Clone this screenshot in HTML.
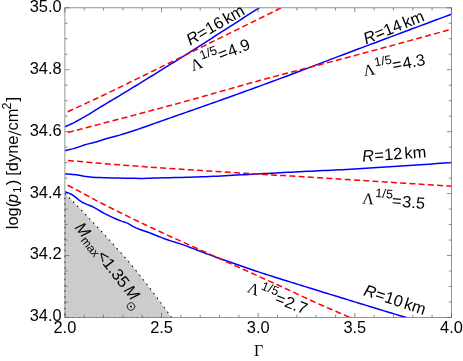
<!DOCTYPE html>
<html><head><meta charset="utf-8"><title>plot</title>
<style>
html,body{margin:0;padding:0;background:#fff;}
body{width:463px;height:361px;overflow:hidden;position:relative;font-family:"Liberation Sans",sans-serif;}
</style></head><body>
<svg width="463" height="361" viewBox="0 0 463 361" style="position:absolute;left:0;top:0;will-change:transform">
<rect x="0" y="0" width="463" height="361" fill="#fff"/>
<defs><clipPath id="cp"><rect x="64.9" y="7.8" width="386.54999999999995" height="309.65"/></clipPath></defs>
<clipPath id="tri"><path d="M64.90,193.50 L67.63,196.22 L70.37,198.97 L73.10,201.73 L75.83,204.51 L78.57,207.31 L81.30,210.13 L84.03,212.96 L86.77,215.81 L89.50,218.67 L92.23,221.56 L94.97,224.47 L97.70,227.40 L100.43,230.35 L103.17,233.31 L105.90,236.30 L108.63,239.30 L111.37,242.30 L114.10,245.31 L116.83,248.32 L119.57,251.35 L122.30,254.40 L125.03,257.50 L127.77,260.65 L130.50,263.86 L133.23,267.16 L135.97,270.55 L138.70,273.99 L141.43,277.44 L144.17,280.92 L146.90,284.43 L149.63,287.96 L152.37,291.53 L155.10,295.13 L157.83,298.77 L160.57,302.44 L163.30,306.14 L166.03,309.88 L168.77,313.65 L171.50,317.45 L64.9,317.45 Z"/></clipPath>
<path d="M64.90,193.50 L67.63,196.22 L70.37,198.97 L73.10,201.73 L75.83,204.51 L78.57,207.31 L81.30,210.13 L84.03,212.96 L86.77,215.81 L89.50,218.67 L92.23,221.56 L94.97,224.47 L97.70,227.40 L100.43,230.35 L103.17,233.31 L105.90,236.30 L108.63,239.30 L111.37,242.30 L114.10,245.31 L116.83,248.32 L119.57,251.35 L122.30,254.40 L125.03,257.50 L127.77,260.65 L130.50,263.86 L133.23,267.16 L135.97,270.55 L138.70,273.99 L141.43,277.44 L144.17,280.92 L146.90,284.43 L149.63,287.96 L152.37,291.53 L155.10,295.13 L157.83,298.77 L160.57,302.44 L163.30,306.14 L166.03,309.88 L168.77,313.65 L171.50,317.45 L64.9,317.45 Z" fill="#cccccc"/>
<path d="M85.4,190 V318 M104.7,190 V318 M124.0,190 V318 M143.3,190 V318 M64,254.5 H180 M64,285.5 H180 M66.0,300 l38.6,-29.9 M66.0,331 l38.6,-29.9 M66.0,269 l38.6,-29.9 M85.3,300 l38.6,-29.9 M85.3,331 l38.6,-29.9 M85.3,269 l38.6,-29.9 M104.6,300 l38.6,-29.9 M104.6,331 l38.6,-29.9 M104.6,269 l38.6,-29.9 M123.9,300 l38.6,-29.9 M123.9,331 l38.6,-29.9 M123.9,269 l38.6,-29.9 M143.2,300 l38.6,-29.9 M143.2,331 l38.6,-29.9 M143.2,269 l38.6,-29.9 M162.5,300 l38.6,-29.9 M162.5,331 l38.6,-29.9 M162.5,269 l38.6,-29.9 M181.8,300 l38.6,-29.9 M181.8,331 l38.6,-29.9 M181.8,269 l38.6,-29.9" stroke="#d1d1d1" stroke-width="0.55" fill="none" clip-path="url(#tri)"/>
<path d="M64.90,193.50 L67.63,196.22 L70.37,198.97 L73.10,201.73 L75.83,204.51 L78.57,207.31 L81.30,210.13 L84.03,212.96 L86.77,215.81 L89.50,218.67 L92.23,221.56 L94.97,224.47 L97.70,227.40 L100.43,230.35 L103.17,233.31 L105.90,236.30 L108.63,239.30 L111.37,242.30 L114.10,245.31 L116.83,248.32 L119.57,251.35 L122.30,254.40 L125.03,257.50 L127.77,260.65 L130.50,263.86 L133.23,267.16 L135.97,270.55 L138.70,273.99 L141.43,277.44 L144.17,280.92 L146.90,284.43 L149.63,287.96 L152.37,291.53 L155.10,295.13 L157.83,298.77 L160.57,302.44 L163.30,306.14 L166.03,309.88 L168.77,313.65 L171.50,317.45 L64.9,317.45 Z" fill="none" stroke="#000" stroke-width="1.05" stroke-dasharray="1.5 4.3"/>
<g clip-path="url(#cp)" fill="none" stroke-linecap="butt" stroke-linejoin="round">
<path d="M64.70,126.90 L66.68,126.06 L68.65,125.18 L70.63,124.26 L72.60,123.30 L74.58,122.30 L76.55,121.26 L78.53,120.18 L80.51,119.09 L82.48,117.97 L84.46,116.84 L86.43,115.70 L88.41,114.54 L90.38,113.36 L92.36,112.15 L94.34,110.93 L96.31,109.70 L98.29,108.46 L100.26,107.23 L102.24,106.01 L104.22,104.81 L106.19,103.62 L108.17,102.44 L110.14,101.26 L112.12,100.09 L114.09,98.92 L116.07,97.74 L118.05,96.56 L120.02,95.37 L122.00,94.17 L123.97,92.97 L125.95,91.77 L127.92,90.57 L129.90,89.36 L131.88,88.16 L133.85,86.95 L135.83,85.74 L137.80,84.53 L139.78,83.32 L141.75,82.10 L143.73,80.89 L145.71,79.67 L147.68,78.45 L149.66,77.23 L151.63,76.01 L153.61,74.79 L155.58,73.56 L157.56,72.34 L159.54,71.11 L161.51,69.89 L163.49,68.66 L165.46,67.43 L167.44,66.20 L169.42,64.96 L171.39,63.73 L173.37,62.50 L175.34,61.26 L177.32,60.02 L179.29,58.79 L181.27,57.54 L183.25,56.30 L185.22,55.06 L187.20,53.81 L189.17,52.56 L191.15,51.31 L193.12,50.06 L195.10,48.81 L197.08,47.56 L199.05,46.31 L201.03,45.05 L203.00,43.79 L204.98,42.54 L206.95,41.28 L208.93,40.02 L210.91,38.76 L212.88,37.50 L214.86,36.24 L216.83,34.98 L218.81,33.71 L220.78,32.45 L222.76,31.19 L224.74,29.92 L226.71,28.66 L228.69,27.39 L230.66,26.12 L232.64,24.86 L234.62,23.59 L236.59,22.32 L238.57,21.05 L240.54,19.77 L242.52,18.50 L244.49,17.23 L246.47,15.95 L248.45,14.67 L250.42,13.40 L252.40,12.12 L254.37,10.84 L256.35,9.56 L258.32,8.28 L260.30,7.00" stroke="#0000ff" stroke-width="1.5"/>
<path d="M64.70,150.70 L68.61,149.84 L72.52,148.87 L76.44,147.75 L80.35,146.39 L84.26,145.02 L88.17,143.88 L92.08,142.95 L96.00,141.97 L99.91,140.75 L103.82,139.44 L107.73,138.24 L111.65,137.19 L115.56,136.17 L119.47,135.10 L123.38,133.93 L127.29,132.71 L131.21,131.46 L135.12,130.18 L139.03,128.86 L142.94,127.53 L146.85,126.17 L150.77,124.80 L154.68,123.41 L158.59,122.03 L162.50,120.63 L166.42,119.25 L170.33,117.86 L174.24,116.50 L178.15,115.13 L182.06,113.77 L185.98,112.40 L189.89,111.03 L193.80,109.66 L197.71,108.29 L201.62,106.91 L205.54,105.53 L209.45,104.14 L213.36,102.75 L217.27,101.36 L221.18,99.97 L225.10,98.57 L229.01,97.17 L232.92,95.77 L236.83,94.36 L240.75,92.95 L244.66,91.54 L248.57,90.12 L252.48,88.70 L256.39,87.28 L260.31,85.85 L264.22,84.42 L268.13,82.99 L272.04,81.55 L275.95,80.10 L279.87,78.65 L283.78,77.19 L287.69,75.72 L291.60,74.25 L295.52,72.78 L299.43,71.30 L303.34,69.81 L307.25,68.33 L311.16,66.84 L315.08,65.35 L318.99,63.86 L322.90,62.37 L326.81,60.88 L330.72,59.39 L334.64,57.90 L338.55,56.42 L342.46,54.94 L346.37,53.46 L350.28,51.99 L354.20,50.52 L358.11,49.06 L362.02,47.59 L365.93,46.12 L369.85,44.65 L373.76,43.19 L377.67,41.72 L381.58,40.26 L385.49,38.79 L389.41,37.33 L393.32,35.87 L397.23,34.40 L401.14,32.94 L405.05,31.48 L408.97,30.02 L412.88,28.56 L416.79,27.10 L420.70,25.64 L424.62,24.19 L428.53,22.73 L432.44,21.27 L436.35,19.82 L440.26,18.36 L444.18,16.91 L448.09,15.45 L452.00,14.00" stroke="#0000ff" stroke-width="1.5"/>
<path d="M64.70,174.00 L68.61,174.11 L72.52,174.40 L76.44,174.80 L80.35,175.51 L84.26,176.33 L88.17,176.77 L92.08,177.13 L96.00,177.41 L99.91,177.60 L103.82,177.74 L107.73,177.85 L111.65,177.94 L115.56,178.02 L119.47,178.09 L123.38,178.16 L127.29,178.24 L131.21,178.31 L135.12,178.37 L139.03,178.40 L142.94,178.39 L146.85,178.31 L150.77,178.20 L154.68,178.06 L158.59,177.94 L162.50,177.84 L166.42,177.74 L170.33,177.65 L174.24,177.57 L178.15,177.48 L182.06,177.39 L185.98,177.30 L189.89,177.20 L193.80,177.09 L197.71,176.97 L201.62,176.84 L205.54,176.70 L209.45,176.54 L213.36,176.36 L217.27,176.17 L221.18,175.97 L225.10,175.76 L229.01,175.54 L232.92,175.32 L236.83,175.10 L240.75,174.87 L244.66,174.65 L248.57,174.43 L252.48,174.21 L256.39,174.01 L260.31,173.80 L264.22,173.59 L268.13,173.38 L272.04,173.18 L275.95,172.97 L279.87,172.76 L283.78,172.55 L287.69,172.34 L291.60,172.13 L295.52,171.93 L299.43,171.73 L303.34,171.53 L307.25,171.34 L311.16,171.16 L315.08,170.97 L318.99,170.79 L322.90,170.61 L326.81,170.42 L330.72,170.23 L334.64,170.04 L338.55,169.84 L342.46,169.63 L346.37,169.41 L350.28,169.19 L354.20,168.97 L358.11,168.75 L362.02,168.52 L365.93,168.29 L369.85,168.06 L373.76,167.82 L377.67,167.58 L381.58,167.34 L385.49,167.09 L389.41,166.84 L393.32,166.59 L397.23,166.34 L401.14,166.08 L405.05,165.82 L408.97,165.55 L412.88,165.28 L416.79,165.01 L420.70,164.73 L424.62,164.46 L428.53,164.17 L432.44,163.89 L436.35,163.60 L440.26,163.30 L444.18,163.01 L448.09,162.70 L452.00,162.40" stroke="#0000ff" stroke-width="1.5"/>
<path d="M64.70,191.70 L68.29,192.89 L71.88,194.54 L75.47,197.09 L79.06,200.11 L82.64,202.54 L86.23,204.14 L89.82,205.51 L93.41,207.05 L97.00,209.05 L100.59,211.26 L104.18,213.37 L107.77,215.19 L111.36,216.92 L114.94,218.55 L118.53,220.04 L122.12,221.35 L125.71,222.44 L129.30,224.07 L132.89,226.31 L136.48,228.10 L140.07,229.50 L143.66,230.76 L147.24,231.99 L150.83,233.32 L154.42,234.77 L158.01,236.24 L161.60,237.66 L165.19,238.97 L168.78,240.19 L172.37,241.35 L175.96,242.49 L179.54,243.66 L183.13,244.88 L186.72,246.16 L190.31,247.50 L193.90,248.86 L197.49,250.24 L201.08,251.62 L204.67,252.99 L208.26,254.33 L211.84,255.64 L215.43,256.94 L219.02,258.23 L222.61,259.51 L226.20,260.79 L229.79,262.06 L233.38,263.32 L236.97,264.58 L240.56,265.82 L244.14,267.06 L247.73,268.28 L251.32,269.50 L254.91,270.71 L258.50,271.90 L262.09,273.09 L265.68,274.25 L269.27,275.41 L272.86,276.55 L276.44,277.68 L280.03,278.80 L283.62,279.92 L287.21,281.03 L290.80,282.15 L294.39,283.26 L297.98,284.37 L301.57,285.49 L305.16,286.60 L308.74,287.72 L312.33,288.83 L315.92,289.95 L319.51,291.06 L323.10,292.17 L326.69,293.28 L330.28,294.38 L333.87,295.49 L337.46,296.59 L341.04,297.69 L344.63,298.80 L348.22,299.90 L351.81,301.00 L355.40,302.10 L358.99,303.19 L362.58,304.29 L366.17,305.39 L369.76,306.48 L373.34,307.57 L376.93,308.67 L380.52,309.76 L384.11,310.85 L387.70,311.94 L391.29,313.03 L394.88,314.11 L398.47,315.19 L402.06,316.27 L405.64,317.34 L409.23,318.41 L412.82,319.48 L416.41,320.54 L420.00,321.60" stroke="#0000ff" stroke-width="1.5"/>
<path d="M64.70,113.10 L66.98,112.07 L69.25,111.03 L71.53,109.99 L73.80,108.95 L76.08,107.91 L78.35,106.87 L80.63,105.83 L82.91,104.78 L85.18,103.74 L87.46,102.69 L89.73,101.64 L92.01,100.59 L94.28,99.53 L96.56,98.46 L98.84,97.40 L101.11,96.32 L103.39,95.24 L105.66,94.16 L107.94,93.05 L110.22,91.94 L112.49,90.83 L114.77,89.71 L117.04,88.60 L119.32,87.49 L121.59,86.38 L123.87,85.27 L126.15,84.16 L128.42,83.04 L130.70,81.93 L132.97,80.82 L135.25,79.70 L137.52,78.59 L139.80,77.47 L142.08,76.36 L144.35,75.24 L146.63,74.13 L148.90,73.01 L151.18,71.90 L153.45,70.78 L155.73,69.66 L158.01,68.55 L160.28,67.43 L162.56,66.31 L164.83,65.19 L167.11,64.08 L169.38,62.96 L171.66,61.84 L173.94,60.72 L176.21,59.61 L178.49,58.49 L180.76,57.37 L183.04,56.25 L185.32,55.13 L187.59,54.01 L189.87,52.89 L192.14,51.77 L194.42,50.65 L196.69,49.53 L198.97,48.40 L201.25,47.28 L203.52,46.16 L205.80,45.04 L208.07,43.91 L210.35,42.79 L212.62,41.67 L214.90,40.55 L217.18,39.42 L219.45,38.30 L221.73,37.18 L224.00,36.05 L226.28,34.93 L228.55,33.81 L230.83,32.68 L233.11,31.56 L235.38,30.44 L237.66,29.31 L239.93,28.19 L242.21,27.07 L244.48,25.95 L246.76,24.82 L249.04,23.70 L251.31,22.58 L253.59,21.46 L255.86,20.34 L258.14,19.22 L260.42,18.10 L262.69,16.98 L264.97,15.86 L267.24,14.74 L269.52,13.63 L271.79,12.51 L274.07,11.39 L276.35,10.27 L278.62,9.16 L280.90,8.04 L283.17,6.93 L285.45,5.82 L287.72,4.71 L290.00,3.60" stroke="#ff0000" stroke-width="1.5" stroke-dasharray="6 3.25" stroke-dashoffset="6"/>
<path d="M64.70,133.30 L68.61,132.29 L72.52,131.27 L76.44,130.25 L80.35,129.23 L84.26,128.21 L88.17,127.19 L92.08,126.17 L96.00,125.15 L99.91,124.12 L103.82,123.10 L107.73,122.07 L111.65,121.05 L115.56,120.02 L119.47,118.99 L123.38,117.96 L127.29,116.93 L131.21,115.90 L135.12,114.87 L139.03,113.84 L142.94,112.81 L146.85,111.77 L150.77,110.74 L154.68,109.70 L158.59,108.66 L162.50,107.61 L166.42,106.57 L170.33,105.51 L174.24,104.45 L178.15,103.39 L182.06,102.31 L185.98,101.23 L189.89,100.15 L193.80,99.06 L197.71,97.96 L201.62,96.86 L205.54,95.76 L209.45,94.65 L213.36,93.54 L217.27,92.43 L221.18,91.32 L225.10,90.21 L229.01,89.10 L232.92,88.00 L236.83,86.89 L240.75,85.79 L244.66,84.69 L248.57,83.59 L252.48,82.50 L256.39,81.42 L260.31,80.34 L264.22,79.27 L268.13,78.21 L272.04,77.15 L275.95,76.10 L279.87,75.06 L283.78,74.03 L287.69,73.00 L291.60,71.98 L295.52,70.96 L299.43,69.95 L303.34,68.94 L307.25,67.93 L311.16,66.92 L315.08,65.91 L318.99,64.90 L322.90,63.89 L326.81,62.88 L330.72,61.86 L334.64,60.85 L338.55,59.82 L342.46,58.80 L346.37,57.76 L350.28,56.72 L354.20,55.68 L358.11,54.63 L362.02,53.59 L365.93,52.54 L369.85,51.49 L373.76,50.44 L377.67,49.38 L381.58,48.33 L385.49,47.27 L389.41,46.21 L393.32,45.15 L397.23,44.08 L401.14,43.02 L405.05,41.95 L408.97,40.88 L412.88,39.81 L416.79,38.74 L420.70,37.67 L424.62,36.59 L428.53,35.51 L432.44,34.43 L436.35,33.35 L440.26,32.26 L444.18,31.18 L448.09,30.09 L452.00,29.00" stroke="#ff0000" stroke-width="1.5" stroke-dasharray="6 3.25" stroke-dashoffset="6"/>
<path d="M64.70,160.20 L68.61,160.56 L72.52,160.92 L76.44,161.27 L80.35,161.62 L84.26,161.96 L88.17,162.30 L92.08,162.64 L96.00,162.97 L99.91,163.30 L103.82,163.62 L107.73,163.94 L111.65,164.26 L115.56,164.57 L119.47,164.87 L123.38,165.18 L127.29,165.47 L131.21,165.76 L135.12,166.05 L139.03,166.33 L142.94,166.61 L146.85,166.88 L150.77,167.16 L154.68,167.43 L158.59,167.70 L162.50,167.97 L166.42,168.25 L170.33,168.52 L174.24,168.78 L178.15,169.05 L182.06,169.31 L185.98,169.58 L189.89,169.84 L193.80,170.10 L197.71,170.35 L201.62,170.60 L205.54,170.86 L209.45,171.11 L213.36,171.35 L217.27,171.60 L221.18,171.84 L225.10,172.08 L229.01,172.32 L232.92,172.56 L236.83,172.80 L240.75,173.04 L244.66,173.28 L248.57,173.52 L252.48,173.76 L256.39,173.99 L260.31,174.23 L264.22,174.46 L268.13,174.70 L272.04,174.93 L275.95,175.16 L279.87,175.39 L283.78,175.62 L287.69,175.86 L291.60,176.09 L295.52,176.33 L299.43,176.56 L303.34,176.81 L307.25,177.05 L311.16,177.29 L315.08,177.54 L318.99,177.78 L322.90,178.03 L326.81,178.28 L330.72,178.52 L334.64,178.77 L338.55,179.02 L342.46,179.27 L346.37,179.51 L350.28,179.76 L354.20,180.01 L358.11,180.25 L362.02,180.50 L365.93,180.75 L369.85,180.99 L373.76,181.24 L377.67,181.49 L381.58,181.73 L385.49,181.98 L389.41,182.23 L393.32,182.48 L397.23,182.72 L401.14,182.97 L405.05,183.22 L408.97,183.47 L412.88,183.71 L416.79,183.96 L420.70,184.21 L424.62,184.46 L428.53,184.71 L432.44,184.96 L436.35,185.20 L440.26,185.45 L444.18,185.70 L448.09,185.95 L452.00,186.20" stroke="#ff0000" stroke-width="1.5" stroke-dasharray="6 3.25" stroke-dashoffset="6"/>
<path d="M64.70,183.90 L67.68,185.30 L70.67,186.78 L73.65,188.33 L76.63,189.91 L79.61,191.49 L82.60,193.09 L85.58,194.72 L88.56,196.34 L91.55,197.96 L94.53,199.55 L97.51,201.13 L100.49,202.68 L103.48,204.22 L106.46,205.74 L109.44,207.25 L112.43,208.75 L115.41,210.24 L118.39,211.72 L121.37,213.19 L124.36,214.66 L127.34,216.12 L130.32,217.58 L133.31,219.02 L136.29,220.46 L139.27,221.90 L142.25,223.32 L145.24,224.74 L148.22,226.16 L151.20,227.57 L154.18,228.97 L157.17,230.36 L160.15,231.74 L163.13,233.11 L166.12,234.48 L169.10,235.84 L172.08,237.20 L175.06,238.55 L178.05,239.90 L181.03,241.24 L184.01,242.59 L187.00,243.93 L189.98,245.27 L192.96,246.61 L195.94,247.95 L198.93,249.29 L201.91,250.63 L204.89,251.98 L207.88,253.33 L210.86,254.68 L213.84,256.03 L216.82,257.38 L219.81,258.73 L222.79,260.08 L225.77,261.43 L228.76,262.78 L231.74,264.12 L234.72,265.47 L237.70,266.82 L240.69,268.16 L243.67,269.51 L246.65,270.85 L249.64,272.20 L252.62,273.55 L255.60,274.90 L258.58,276.25 L261.57,277.60 L264.55,278.96 L267.53,280.31 L270.52,281.67 L273.50,283.03 L276.48,284.39 L279.46,285.75 L282.45,287.12 L285.43,288.50 L288.41,289.89 L291.39,291.28 L294.38,292.68 L297.36,294.07 L300.34,295.47 L303.33,296.86 L306.31,298.25 L309.29,299.63 L312.27,301.00 L315.26,302.36 L318.24,303.71 L321.22,305.04 L324.21,306.36 L327.19,307.66 L330.17,308.95 L333.15,310.22 L336.14,311.50 L339.12,312.78 L342.10,314.06 L345.09,315.35 L348.07,316.65 L351.05,317.97 L354.03,319.30 L357.02,320.65 L360.00,322.00" stroke="#ff0000" stroke-width="1.5" stroke-dasharray="6 3.25" stroke-dashoffset="6"/>
</g>
<rect x="64.9" y="7.8" width="386.54999999999995" height="309.65" fill="none" stroke="#808080" stroke-width="0.85"/>
<path d="M64.90,317.45 v-4.6 M64.90,7.8 v4.6 M84.23,317.45 v-2.7 M84.23,7.8 v2.7 M103.56,317.45 v-2.7 M103.56,7.8 v2.7 M122.88,317.45 v-2.7 M122.88,7.8 v2.7 M142.21,317.45 v-2.7 M142.21,7.8 v2.7 M161.54,317.45 v-4.6 M161.54,7.8 v4.6 M180.87,317.45 v-2.7 M180.87,7.8 v2.7 M200.19,317.45 v-2.7 M200.19,7.8 v2.7 M219.52,317.45 v-2.7 M219.52,7.8 v2.7 M238.85,317.45 v-2.7 M238.85,7.8 v2.7 M258.17,317.45 v-4.6 M258.17,7.8 v4.6 M277.50,317.45 v-2.7 M277.50,7.8 v2.7 M296.83,317.45 v-2.7 M296.83,7.8 v2.7 M316.16,317.45 v-2.7 M316.16,7.8 v2.7 M335.49,317.45 v-2.7 M335.49,7.8 v2.7 M354.81,317.45 v-4.6 M354.81,7.8 v4.6 M374.14,317.45 v-2.7 M374.14,7.8 v2.7 M393.47,317.45 v-2.7 M393.47,7.8 v2.7 M412.79,317.45 v-2.7 M412.79,7.8 v2.7 M432.12,317.45 v-2.7 M432.12,7.8 v2.7 M451.45,317.45 v-4.6 M451.45,7.8 v4.6 M64.9,317.45 h4.6 M451.45,317.45 h-4.6 M64.9,301.97 h2.7 M451.45,301.97 h-2.7 M64.9,286.48 h2.7 M451.45,286.48 h-2.7 M64.9,271.00 h2.7 M451.45,271.00 h-2.7 M64.9,255.52 h4.6 M451.45,255.52 h-4.6 M64.9,240.04 h2.7 M451.45,240.04 h-2.7 M64.9,224.56 h2.7 M451.45,224.56 h-2.7 M64.9,209.07 h2.7 M451.45,209.07 h-2.7 M64.9,193.59 h4.6 M451.45,193.59 h-4.6 M64.9,178.11 h2.7 M451.45,178.11 h-2.7 M64.9,162.62 h2.7 M451.45,162.62 h-2.7 M64.9,147.14 h2.7 M451.45,147.14 h-2.7 M64.9,131.66 h4.6 M451.45,131.66 h-4.6 M64.9,116.18 h2.7 M451.45,116.18 h-2.7 M64.9,100.69 h2.7 M451.45,100.69 h-2.7 M64.9,85.21 h2.7 M451.45,85.21 h-2.7 M64.9,69.73 h4.6 M451.45,69.73 h-4.6 M64.9,54.25 h2.7 M451.45,54.25 h-2.7 M64.9,38.77 h2.7 M451.45,38.77 h-2.7 M64.9,23.28 h2.7 M451.45,23.28 h-2.7 M64.9,7.80 h4.6 M451.45,7.80 h-4.6" stroke="#5a5a5a" stroke-width="0.7" fill="none"/>
<g font-family="Liberation Sans, sans-serif" font-size="16.4" fill="#000">
<text x="61.60000000000001" y="321.40" text-anchor="end">34.0</text>
<text x="61.60000000000001" y="259.47" text-anchor="end">34.2</text>
<text x="61.60000000000001" y="197.54" text-anchor="end">34.4</text>
<text x="61.60000000000001" y="135.61" text-anchor="end">34.6</text>
<text x="61.60000000000001" y="73.68" text-anchor="end">34.8</text>
<text x="61.60000000000001" y="11.75" text-anchor="end">35.0</text>
<text x="64.90" y="333" text-anchor="middle">2.0</text>
<text x="161.54" y="333" text-anchor="middle">2.5</text>
<text x="258.17" y="333" text-anchor="middle">3.0</text>
<text x="354.81" y="333" text-anchor="middle">3.5</text>
<text x="451.45" y="333" text-anchor="middle">4.0</text>
</g>
<text x="258.5" y="356.4" text-anchor="middle" font-family="Liberation Serif, serif" font-size="16">Γ</text>
<g transform="translate(18.2,137.8) rotate(-90)" font-family="Liberation Sans, sans-serif" font-size="16.4"><text x="2.2" y="0" text-anchor="end">log(<tspan font-style="italic" dx="-1.3">p</tspan><tspan font-size="11.8" dy="2.8" dx="1">1</tspan><tspan dy="-2.8" dx="1.2">)</tspan><tspan dx="-0.5"> [dyne</tspan></text><path d="M2.6,3.0 L6.8,-9.8" stroke="#000" stroke-width="1.1" fill="none"/><text x="7.3" y="0" text-anchor="start">cm<tspan font-size="12.5" dy="-7.5" dx="-0.8">2</tspan><tspan dy="7.5" dx="1.0">]</tspan></text></g>
<text transform="translate(218.1,29.7) rotate(-30)" text-anchor="middle" font-family="Liberation Sans, sans-serif" font-size="16.4"><tspan font-style="italic">R</tspan><tspan dx="0.3">=</tspan><tspan dx="0.2">16</tspan><tspan dx="2.2">km</tspan></text>
<text transform="translate(222,60) rotate(-21)" text-anchor="middle" font-family="Liberation Sans, sans-serif" font-size="16.4"><tspan font-family="Liberation Serif, serif" font-size="16">Λ</tspan><tspan font-size="12.5" dy="-7.5" dx="0.7" letter-spacing="0.2">1/5</tspan><tspan dy="7.5" dx="-0.6">=</tspan><tspan dx="0.7">4.9</tspan></text>
<text transform="translate(395.7,32.4) rotate(-22)" text-anchor="middle" font-family="Liberation Sans, sans-serif" font-size="16.4"><tspan font-style="italic">R</tspan><tspan dx="0.3">=</tspan><tspan dx="0.2">14</tspan><tspan dx="2.2">km</tspan></text>
<text transform="translate(395,70.5) rotate(-10.5)" text-anchor="middle" font-family="Liberation Sans, sans-serif" font-size="16.4"><tspan font-family="Liberation Serif, serif" font-size="16">Λ</tspan><tspan font-size="12.5" dy="-7.5" dx="0.7" letter-spacing="0.2">1/5</tspan><tspan dy="7.5" dx="-0.6">=</tspan><tspan dx="0.7">4.3</tspan></text>
<text transform="translate(394.6,159.5) rotate(-4)" text-anchor="middle" font-family="Liberation Sans, sans-serif" font-size="16.4"><tspan font-style="italic">R</tspan><tspan dx="0.3">=</tspan><tspan dx="0.2">12</tspan><tspan dx="2.2">km</tspan></text>
<text transform="translate(393.3,206.2) rotate(5)" text-anchor="middle" font-family="Liberation Sans, sans-serif" font-size="16.4"><tspan font-family="Liberation Serif, serif" font-size="16">Λ</tspan><tspan font-size="12.5" dy="-7.5" dx="0.7" letter-spacing="0.2">1/5</tspan><tspan dy="7.5" dx="-0.6">=</tspan><tspan dx="0.7">3.5</tspan></text>
<text transform="translate(393.2,305.0) rotate(18)" text-anchor="middle" font-family="Liberation Sans, sans-serif" font-size="16.4"><tspan font-style="italic">R</tspan><tspan dx="0.3">=</tspan><tspan dx="0.2">10</tspan><tspan dx="2.2">km</tspan></text>
<text transform="translate(275.5,303.2) rotate(21.5)" text-anchor="middle" font-family="Liberation Sans, sans-serif" font-size="16.4"><tspan font-family="Liberation Serif, serif" font-size="16">Λ</tspan><tspan font-size="12.5" dy="-7.5" dx="0.7" letter-spacing="0.2">1/5</tspan><tspan dy="7.5" dx="-0.6">=</tspan><tspan dx="0.7">2.7</tspan></text>
<g transform="translate(102.9,264.5) rotate(52)"><text text-anchor="middle" font-family="Liberation Sans, sans-serif" font-size="16.4"><tspan font-style="italic">M</tspan><tspan font-size="11.8" dy="3">max</tspan><tspan dy="-3" dx="-0.3">&lt;1.35</tspan><tspan dx="2.3" font-style="italic">M</tspan></text><circle cx="50.4" cy="3.7" r="3.8" fill="none" stroke="#000" stroke-width="0.75"/><circle cx="50.4" cy="3.7" r="0.95" fill="#000"/></g>
</svg>
</body></html>
